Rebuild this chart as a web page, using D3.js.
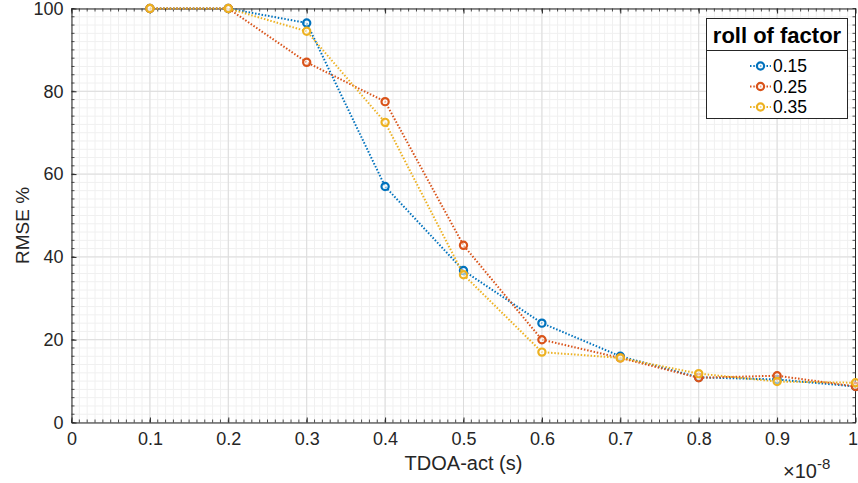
<!DOCTYPE html>
<html><head><meta charset="utf-8">
<script src="https://cdn.jsdelivr.net/npm/d3@7"></script>
<style>body{margin:0;background:#fff;}svg{display:block;font-family:"Liberation Sans",Arial,sans-serif;}</style>
</head><body><svg id="c" width="858" height="483"></svg>
<script>
const xValues = [0.1,0.2,0.3,0.4,0.5,0.6,0.7,0.8,0.9,1.0];
const s015 = [100,100,96.5,57,36.7,24,16,10.9,10.4,8.7];
const s025 = [100,100,87,77.5,42.8,20,15.6,10.8,11.3,8.7];
const s035 = [100,100,94.5,72.5,35.7,17,15.6,11.8,9.9,9.6];
const seriesNames = ["0.15","0.25","0.35"];
const colors = ["#0072BD","#D95319","#EDB120"];
const xTicks = [0,0.1,0.2,0.3,0.4,0.5,0.6,0.7,0.8,0.9,1];
const xTickLabels = ["0","0.1","0.2","0.3","0.4","0.5","0.6","0.7","0.8","0.9","1"];
const yTicks = [0,20,40,60,80,100];

const svg = d3.select("#c");
const L=71.5, R=855.5, T=8.5, B=422.5;
const x = d3.scaleLinear().domain([0,1]).range([L,R]);
const y = d3.scaleLinear().domain([0,100]).range([B,T]);
const g = svg.append("g");

const xMinor = d3.range(0,101).map(i=>i/100);
const yMinor = d3.range(0,51).map(i=>i*2);
g.selectAll(".mgx").data(xMinor).enter().append("line")
 .attr("x1",d=>x(d)).attr("x2",d=>x(d)).attr("y1",T).attr("y2",B)
 .attr("stroke","#f0f0f0").attr("stroke-width",1);
g.selectAll(".mgy").data(yMinor).enter().append("line")
 .attr("y1",d=>y(d)).attr("y2",d=>y(d)).attr("x1",L).attr("x2",R)
 .attr("stroke","#f0f0f0").attr("stroke-width",1);
g.selectAll(".gx").data(xTicks).enter().append("line")
 .attr("x1",d=>x(d)).attr("x2",d=>x(d)).attr("y1",T).attr("y2",B)
 .attr("stroke","#dcdcdc").attr("stroke-width",1);
g.selectAll(".gy").data(yTicks).enter().append("line")
 .attr("y1",d=>y(d)).attr("y2",d=>y(d)).attr("x1",L).attr("x2",R)
 .attr("stroke","#dcdcdc").attr("stroke-width",1);

const axCol="#262626";
const xAxis = d3.axisBottom(x).tickValues(xTicks).tickFormat((d,i)=>xTickLabels[i]).tickSizeInner(-5).tickSizeOuter(0).tickPadding(10);
const xa = svg.append("g").attr("transform",`translate(0,${B})`).call(xAxis);
const yAxis = d3.axisLeft(y).tickValues(yTicks).tickSizeInner(-5).tickSizeOuter(0).tickPadding(8);
const ya = svg.append("g").attr("transform",`translate(${L},0)`).call(yAxis);
const xaTop = svg.append("g").attr("transform",`translate(0,${T})`).call(d3.axisTop(x).tickValues(xTicks).tickSizeInner(-5).tickSizeOuter(0).tickFormat(""));
[xa,ya,xaTop].forEach(a=>{a.select(".domain").attr("stroke",axCol);a.selectAll(".tick line").attr("stroke",axCol);a.selectAll("text").attr("fill",axCol).attr("font-size",18).attr("font-family","Liberation Sans, Arial, sans-serif");});
xa.selectAll(".tick text").filter(d=>d===1).attr("dx",-3);
svg.append("g").selectAll("line").data(xMinor).enter().append("line")
 .attr("x1",d=>x(d)).attr("x2",d=>x(d)).attr("y1",B).attr("y2",B-3).attr("stroke",axCol).attr("stroke-width",0.8);
svg.append("g").selectAll("line").data(xMinor).enter().append("line")
 .attr("x1",d=>x(d)).attr("x2",d=>x(d)).attr("y1",T).attr("y2",T+3).attr("stroke",axCol).attr("stroke-width",0.8);
svg.append("g").selectAll("line").data(yMinor).enter().append("line")
 .attr("y1",d=>y(d)).attr("y2",d=>y(d)).attr("x1",L).attr("x2",L+3).attr("stroke",axCol).attr("stroke-width",0.8);
svg.append("g").selectAll("line").data(yMinor).enter().append("line")
 .attr("y1",d=>y(d)).attr("y2",d=>y(d)).attr("x1",R).attr("x2",R-3).attr("stroke",axCol).attr("stroke-width",0.8);
svg.append("line").attr("x1",R).attr("x2",R).attr("y1",T).attr("y2",B).attr("stroke",axCol);

svg.append("text").attr("x",(L+R)/2+0).attr("y",470).attr("text-anchor","middle").attr("font-size",20).attr("fill",axCol).text("TDOA-act (s)");
svg.append("text").attr("transform",`translate(29,${(T+B)/2+10}) rotate(-90)`).attr("text-anchor","middle").attr("font-size",19).attr("fill",axCol).text("RMSE %");
const ex = svg.append("text").attr("x",783).attr("y",478).attr("font-size",20).attr("fill",axCol);
ex.append("tspan").text("×10");
ex.append("tspan").attr("dy",-9).attr("font-size",15).text("-8");

const all=[s015,s025,s035];
const line = d3.line().x(d=>x(d[0])).y(d=>y(d[1]));
all.forEach((s,i)=>{
  const pts = xValues.map((v,j)=>[v,s[j]]);
  svg.append("path").datum(pts).attr("d",line).attr("fill","none").attr("stroke",colors[i]).attr("stroke-width",2).attr("stroke-dasharray","1.5,1.8");
  svg.append("g").selectAll("circle").data(pts).enter().append("circle")
   .attr("cx",d=>x(d[0])).attr("cy",d=>y(d[1])).attr("r",3.6)
   .attr("fill","#fff").attr("fill-opacity",0.5).attr("stroke",colors[i]).attr("stroke-width",2.2);
});

const lg = svg.append("g");
lg.append("rect").attr("x",706.5).attr("y",18.5).attr("width",141).attr("height",100).attr("fill","#fff").attr("stroke","#262626").attr("stroke-width",1);
lg.append("line").attr("x1",706.5).attr("x2",847.5).attr("y1",50.5).attr("y2",50.5).attr("stroke","#262626");
lg.append("text").attr("x",777).attr("y",43).attr("text-anchor","middle").attr("font-size",22).attr("font-weight","bold").attr("fill","#000").text("roll of factor");
seriesNames.forEach((n,i)=>{
  const yy = 66 + i*20.5;
  lg.append("line").attr("x1",750).attr("x2",771).attr("y1",yy).attr("y2",yy).attr("stroke",colors[i]).attr("stroke-width",2).attr("stroke-dasharray","1.5,1.8");
  lg.append("circle").attr("cx",760.5).attr("cy",yy).attr("r",3.6).attr("fill","#fff").attr("fill-opacity",0.5).attr("stroke",colors[i]).attr("stroke-width",2.2);
  lg.append("text").attr("x",773).attr("y",yy+6).attr("font-size",17.5).attr("fill","#000").text(n);
});
</script></body></html>
